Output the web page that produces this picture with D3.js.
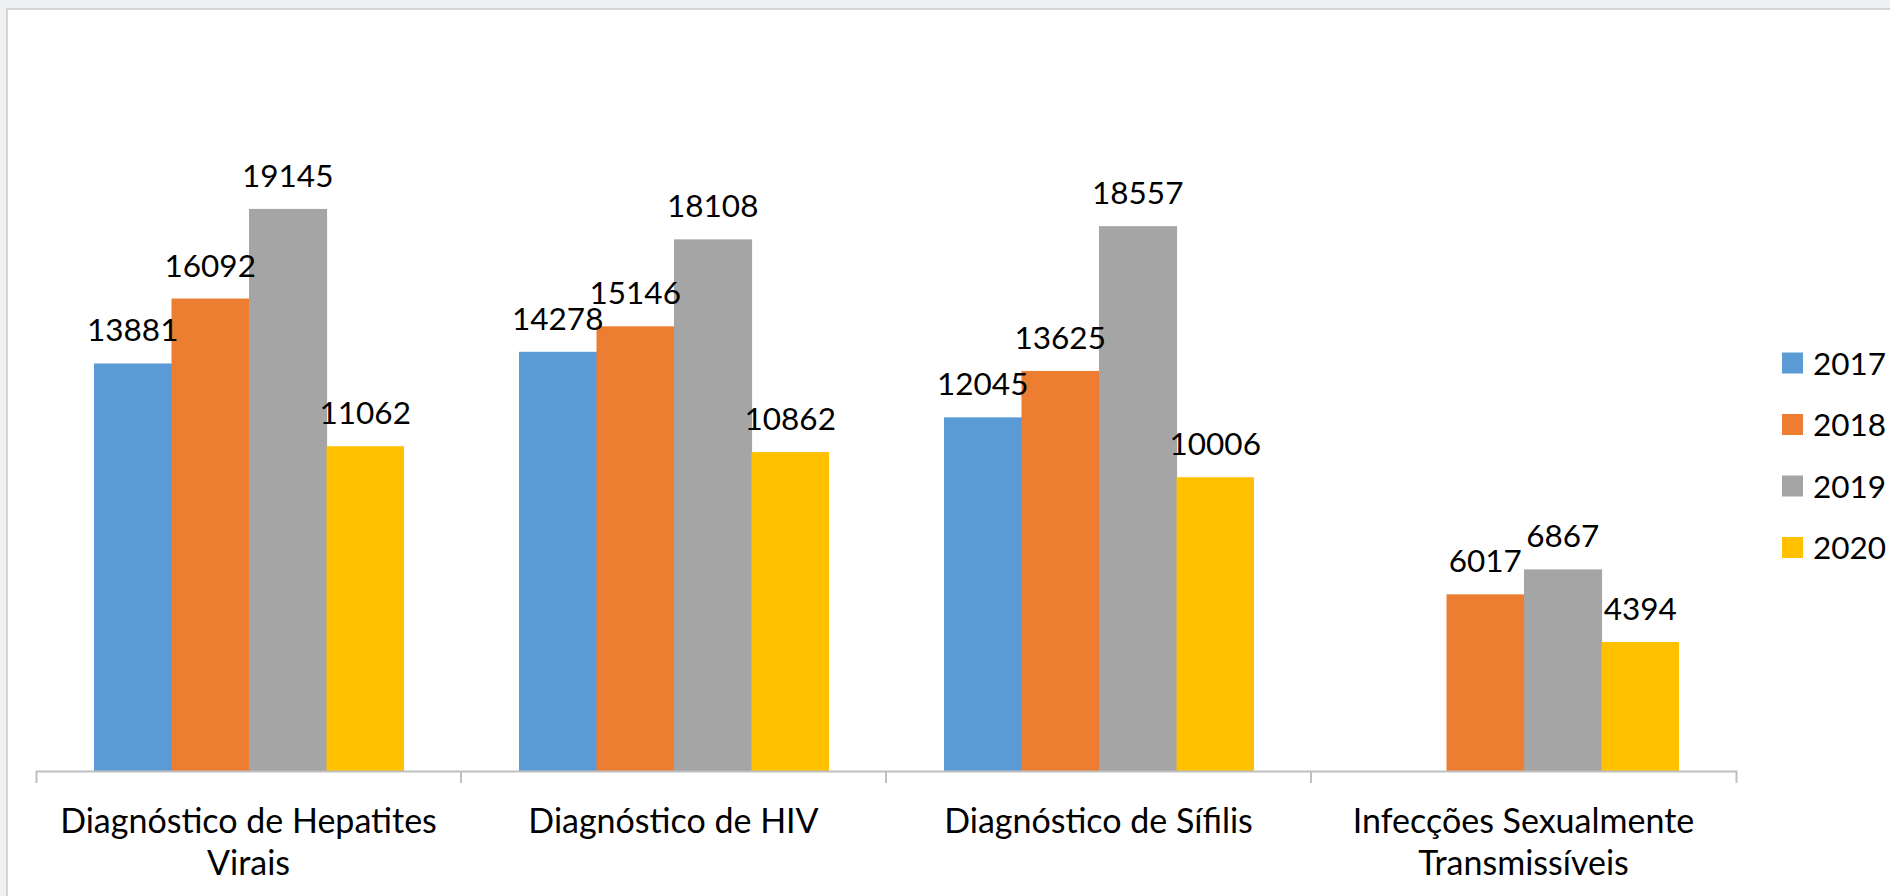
<!DOCTYPE html>
<html>
<head>
<meta charset="utf-8">
<script src="https://cdn.jsdelivr.net/npm/d3@7"></script>
<style>
  body { margin: 0; background: #eff0f2; overflow: hidden; }
  text { font-family: Lato, "Noto Sans", sans-serif; fill: #000; }
</style>
</head>
<body>
<svg id="viz_area" width="1890" height="896"></svg>
<script>
const categories = ['Diagnóstico de Hepatites Virais', 'Diagnóstico de HIV', 'Diagnóstico de Sífilis', 'Infecções Sexualmente Transmissíveis']
const years = ['2017', '2018', '2019', '2020']
const values2017 = [13881, 14278, 12045, null]
const values2018 = [16092, 15146, 13625, 6017]
const values2019 = [19145, 18108, 18557, 6867]
const values2020 = [11062, 10862, 10006, 4394]
const colors = ['#5b9bd5', '#ed7d31', '#a5a5a5', '#ffc000']
const yMax = 25000

const margin = {
    top: 37,
    right: 154,
    bottom: 125,
    left: 36
}

let svgSize, graphSize

function setSizing() {
    svgSize = { width: 1890, height: 896 }
    graphSize = {
        width: svgSize.width - margin.left - margin.right,
        height: svgSize.height - margin.top - margin.bottom
    }
}

function buildData() {
    const series = [values2017, values2018, values2019, values2020]
    return categories.map(function (c, i) {
        return {
            category: c,
            bars: years.map(function (y, j) { return { year: y, value: series[j][i], color: colors[j] } })
        }
    })
}

function drawFrame(svg) {
    svg.append('rect')
        .attr('x', 7)
        .attr('y', 9)
        .attr('width', svgSize.width)
        .attr('height', svgSize.height)
        .attr('fill', '#ffffff')
        .attr('stroke', '#d4d4d4')
        .attr('stroke-width', 2)
}

function wrapLabels(texts, maxWidth, lineHeight) {
    texts.each(function () {
        const text = d3.select(this)
        const words = text.text().split(/\s+/)
        text.text(null)
        let line = []
        let lineNo = 0
        let tspan = text.append('tspan').attr('x', 0).attr('y', 0)
        words.forEach(function (w) {
            line.push(w)
            tspan.text(line.join(' '))
            if (tspan.node().getComputedTextLength() > maxWidth && line.length > 1) {
                line.pop()
                tspan.text(line.join(' '))
                line = [w]
                lineNo++
                tspan = text.append('tspan').attr('x', 0).attr('y', lineNo * lineHeight).text(w)
            }
        })
    })
}

function drawChart(data) {
    setSizing()
    const svg = d3.select('#viz_area')
    drawFrame(svg)

    const g = svg.append('g')
        .attr('transform', 'translate(' + margin.left + ',' + margin.top + ')')

    const x0 = d3.scaleBand()
        .domain(categories)
        .range([0, graphSize.width])

    const x1 = d3.scaleBand()
        .domain(years)
        .range([58, 368])

    const yScale = d3.scaleLinear()
        .domain([0, yMax])
        .range([graphSize.height, 0])

    const groups = g.selectAll('.cat')
        .data(data)
        .enter()
        .append('g')
        .attr('class', 'cat')
        .attr('transform', function (d) { return 'translate(' + x0(d.category) + ',0)' })

    const bars = groups.selectAll('rect')
        .data(function (d) { return d.bars.filter(function (b) { return b.value != null }) })
        .enter()

    // small overlap so no seam shows between neighbouring bars
    bars.append('rect')
        .attr('x', function (d) { return x1(d.year) })
        .attr('y', function (d) { return yScale(d.value) })
        .attr('width', function (d) { return d.year === '2020' ? x1.bandwidth() : x1.bandwidth() + 0.6 })
        .attr('height', function (d) { return graphSize.height - yScale(d.value) })
        .attr('fill', function (d) { return d.color })

    bars.append('text')
        .attr('x', function (d) { return x1(d.year) + x1.bandwidth() / 2 })
        .attr('y', function (d) { return yScale(d.value) - 22 })
        .attr('text-anchor', 'middle')
        .style('font-size', '31.5px')
        .text(function (d) { return d.value })

    // x axis: baseline with outer ticks, separators between categories
    const xAxis = g.append('g')
        .attr('class', 'x axis')
        .attr('transform', 'translate(0,' + graphSize.height + ')')
        .call(d3.axisBottom(x0).tickSize(0).tickSizeOuter(12).tickPadding(0))

    xAxis.select('.domain').attr('stroke', '#bfbfbf').attr('stroke-width', 2)

    xAxis.selectAll('.sep')
        .data(categories.slice(1))
        .enter()
        .append('line')
        .attr('class', 'sep')
        .attr('x1', function (d) { return x0(d) })
        .attr('x2', function (d) { return x0(d) })
        .attr('y1', 0)
        .attr('y2', 12)
        .attr('stroke', '#bfbfbf')
        .attr('stroke-width', 2)

    xAxis.selectAll('.tick text')
        .attr('dy', null)
        .attr('fill', '#000')
        .style('font-size', '34px')
        .style('font-family', 'Lato, "Noto Sans", sans-serif')
        .call(wrapLabels, 400, 42)

    xAxis.selectAll('.tick text').attr('transform', 'translate(0,62)')

    drawLegend(svg)
}

function drawLegend(svg) {
    const legend = svg.append('g')
        .attr('transform', 'translate(1782,0)')

    const items = legend.selectAll('g')
        .data(years)
        .enter()
        .append('g')
        .attr('transform', function (d, i) { return 'translate(0,' + (363 + i * 61.5) + ')' })

    items.append('rect')
        .attr('x', 0)
        .attr('y', -10.5)
        .attr('width', 21)
        .attr('height', 21)
        .attr('fill', function (d, i) { return colors[i] })

    items.append('text')
        .attr('x', 31)
        .attr('y', 11.5)
        .style('font-size', '31.5px')
        .text(function (d) { return d })
}

drawChart(buildData())
</script>
</body>
</html>
